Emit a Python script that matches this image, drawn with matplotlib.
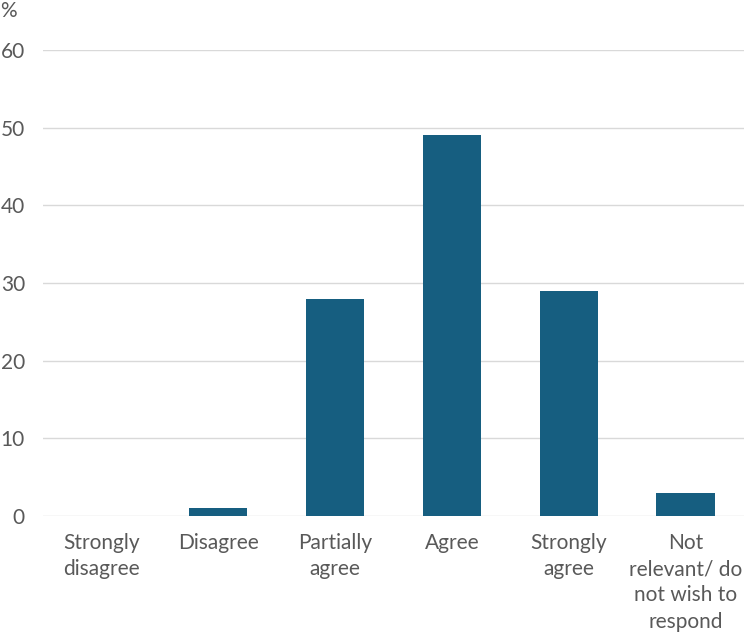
import matplotlib
matplotlib.use('Agg')
import matplotlib.pyplot as plt

categories = ['Strongly\ndisagree', 'Disagree', 'Partially\nagree', 'Agree',
              'Strongly\nagree', 'Not\nrelevant/ do\nnot wish to\nrespond']
values = [0, 1, 28, 49, 29, 3]
yticks = [0, 10, 20, 30, 40, 50, 60]

plt.rcParams['font.family'] = ['Lato', 'DejaVu Sans']

fig = plt.figure(figsize=(7.44, 6.34), dpi=100)
ax = fig.add_axes([43/744, 1 - 516/634, 701/744, (516 - 50)/634])

x = range(len(categories))
ax.bar(x, values, width=0.5, color='#165E80', zorder=3)

ax.set_ylim(0, 60)
ax.set_xlim(-0.5, len(categories) - 0.5)
ax.set_yticks(yticks)
ax.set_xticks(list(x))
ax.set_xticklabels(categories, linespacing=1.4)
ax.grid(axis='y', color='#D9D9D9', linewidth=1, zorder=0)
for s in ax.spines.values():
    s.set_visible(False)
ax.tick_params(axis='both', length=0, labelsize=15, colors='#595959')
ax.tick_params(axis='y', pad=13)
ax.tick_params(axis='x', pad=12)

fig.text(0, 1 - 11/634, '%', fontsize=15, color='#595959', va='center', ha='left')

fig.savefig('out.png', dpi=100)
